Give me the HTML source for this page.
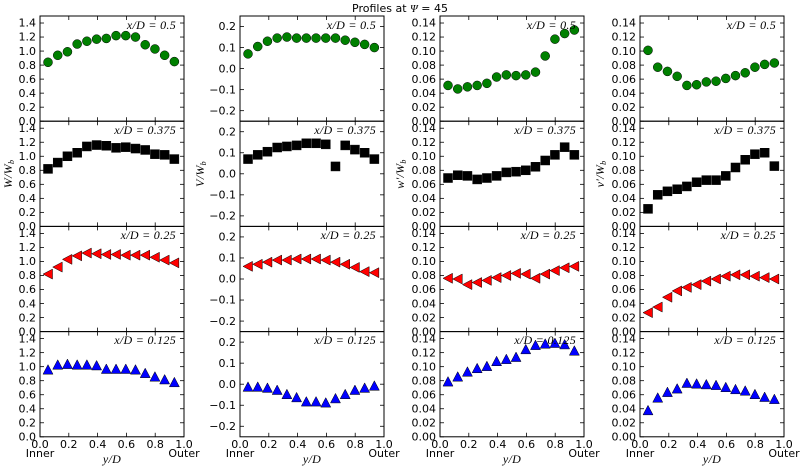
<!DOCTYPE html>
<html><head><meta charset="utf-8"><style>
body{margin:0;background:#fff}
svg{display:block}
.t{font-family:"DejaVu Sans","Liberation Sans",sans-serif;font-size:11px;fill:#000}
.a{font-family:"Liberation Serif",serif;font-style:italic;font-size:12px;fill:#000;letter-spacing:0.3px}
</style></head><body>
<svg id="s" width="800" height="466" viewBox="0 0 800 466" xmlns="http://www.w3.org/2000/svg">
<rect width="800" height="466" fill="#fff"/>
<text class="t" x="400" y="12" text-anchor="middle" font-size="12.5">Profiles at <tspan font-style="italic" font-family="Liberation Serif">Ψ</tspan> =  45</text>
<g id="plots"></g>
<g id="labels">
<g class="t" text-anchor="end">
<g transform="translate(36,16)"><text y="108.9">0.0</text><text y="94.9">0.2</text><text y="80.9">0.4</text><text y="66.8">0.6</text><text y="52.8">0.8</text><text y="38.8">1.0</text><text y="24.7">1.2</text><text y="10.7">1.4</text></g>
<g transform="translate(36,121.2)"><text y="108.9">0.0</text><text y="94.9">0.2</text><text y="80.9">0.4</text><text y="66.8">0.6</text><text y="52.8">0.8</text><text y="38.8">1.0</text><text y="24.7">1.2</text><text y="10.7">1.4</text></g>
<g transform="translate(36,226.4)"><text y="108.9">0.0</text><text y="94.9">0.2</text><text y="80.9">0.4</text><text y="66.8">0.6</text><text y="52.8">0.8</text><text y="38.8">1.0</text><text y="24.7">1.2</text><text y="10.7">1.4</text></g>
<g transform="translate(36,331.6)"><text y="108.9">0.0</text><text y="94.9">0.2</text><text y="80.9">0.4</text><text y="66.8">0.6</text><text y="52.8">0.8</text><text y="38.8">1.0</text><text y="24.7">1.2</text><text y="10.7">1.4</text></g>
<g transform="translate(236,16)"><text y="98.4">−0.2</text><text y="77.3">−0.1</text><text y="56.3">0.0</text><text y="35.3">0.1</text><text y="14.2">0.2</text></g>
<g transform="translate(236,121.2)"><text y="98.4">−0.2</text><text y="77.3">−0.1</text><text y="56.3">0.0</text><text y="35.3">0.1</text><text y="14.2">0.2</text></g>
<g transform="translate(236,226.4)"><text y="98.4">−0.2</text><text y="77.3">−0.1</text><text y="56.3">0.0</text><text y="35.3">0.1</text><text y="14.2">0.2</text></g>
<g transform="translate(236,331.6)"><text y="98.4">−0.2</text><text y="77.3">−0.1</text><text y="56.3">0.0</text><text y="35.3">0.1</text><text y="14.2">0.2</text></g>
<g transform="translate(436,16)"><text y="108.9">0.00</text><text y="94.9">0.02</text><text y="80.9">0.04</text><text y="66.8">0.06</text><text y="52.8">0.08</text><text y="38.8">0.10</text><text y="24.7">0.12</text><text y="10.7">0.14</text></g>
<g transform="translate(436,121.2)"><text y="108.9">0.00</text><text y="94.9">0.02</text><text y="80.9">0.04</text><text y="66.8">0.06</text><text y="52.8">0.08</text><text y="38.8">0.10</text><text y="24.7">0.12</text><text y="10.7">0.14</text></g>
<g transform="translate(436,226.4)"><text y="108.9">0.00</text><text y="94.9">0.02</text><text y="80.9">0.04</text><text y="66.8">0.06</text><text y="52.8">0.08</text><text y="38.8">0.10</text><text y="24.7">0.12</text><text y="10.7">0.14</text></g>
<g transform="translate(436,331.6)"><text y="108.9">0.00</text><text y="94.9">0.02</text><text y="80.9">0.04</text><text y="66.8">0.06</text><text y="52.8">0.08</text><text y="38.8">0.10</text><text y="24.7">0.12</text><text y="10.7">0.14</text></g>
<g transform="translate(636,16)"><text y="108.9">0.00</text><text y="94.9">0.02</text><text y="80.9">0.04</text><text y="66.8">0.06</text><text y="52.8">0.08</text><text y="38.8">0.10</text><text y="24.7">0.12</text><text y="10.7">0.14</text></g>
<g transform="translate(636,121.2)"><text y="108.9">0.00</text><text y="94.9">0.02</text><text y="80.9">0.04</text><text y="66.8">0.06</text><text y="52.8">0.08</text><text y="38.8">0.10</text><text y="24.7">0.12</text><text y="10.7">0.14</text></g>
<g transform="translate(636,226.4)"><text y="108.9">0.00</text><text y="94.9">0.02</text><text y="80.9">0.04</text><text y="66.8">0.06</text><text y="52.8">0.08</text><text y="38.8">0.10</text><text y="24.7">0.12</text><text y="10.7">0.14</text></g>
<g transform="translate(636,331.6)"><text y="108.9">0.00</text><text y="94.9">0.02</text><text y="80.9">0.04</text><text y="66.8">0.06</text><text y="52.8">0.08</text><text y="38.8">0.10</text><text y="24.7">0.12</text><text y="10.7">0.14</text></g>
</g>
<g class="a" text-anchor="end">
<text x="176" y="29">x/D = 0.5</text><text x="376" y="29">x/D = 0.5</text><text x="576" y="29">x/D = 0.5</text><text x="776" y="29">x/D = 0.5</text>
<text x="176" y="134">x/D = 0.375</text><text x="376" y="134">x/D = 0.375</text><text x="576" y="134">x/D = 0.375</text><text x="776" y="134">x/D = 0.375</text>
<text x="176" y="239">x/D = 0.25</text><text x="376" y="239">x/D = 0.25</text><text x="576" y="239">x/D = 0.25</text><text x="776" y="239">x/D = 0.25</text>
<text x="176" y="344">x/D = 0.125</text><text x="376" y="344">x/D = 0.125</text><text x="576" y="344">x/D = 0.125</text><text x="776" y="344">x/D = 0.125</text>
</g>
<g class="a">
<text transform="translate(12,174) rotate(-90)" text-anchor="middle">W/W<tspan font-size="8" dy="2">b</tspan></text>
<text transform="translate(204,174) rotate(-90)" text-anchor="middle">V/W<tspan font-size="8" dy="2">b</tspan></text>
<text transform="translate(404,174) rotate(-90)" text-anchor="middle">w′/W<tspan font-size="8" dy="2">b</tspan></text>
<text transform="translate(604,174) rotate(-90)" text-anchor="middle">v′/W<tspan font-size="8" dy="2">b</tspan></text>
</g>
<g class="t" text-anchor="middle">
<g transform="translate(40,448)"><text x="0">0.0</text><text x="28.8">0.2</text><text x="57.6">0.4</text><text x="86.4">0.6</text><text x="115.2">0.8</text><text x="144">1.0</text><text x="0" y="9">Inner</text><text x="144" y="9">Outer</text></g>
<g transform="translate(240,448)"><text x="0">0.0</text><text x="28.8">0.2</text><text x="57.6">0.4</text><text x="86.4">0.6</text><text x="115.2">0.8</text><text x="144">1.0</text><text x="0" y="9">Inner</text><text x="144" y="9">Outer</text></g>
<g transform="translate(440,448)"><text x="0">0.0</text><text x="28.8">0.2</text><text x="57.6">0.4</text><text x="86.4">0.6</text><text x="115.2">0.8</text><text x="144">1.0</text><text x="0" y="9">Inner</text><text x="144" y="9">Outer</text></g>
<g transform="translate(640,448)"><text x="0">0.0</text><text x="28.8">0.2</text><text x="57.6">0.4</text><text x="86.4">0.6</text><text x="115.2">0.8</text><text x="144">1.0</text><text x="0" y="9">Inner</text><text x="144" y="9">Outer</text></g>
</g>
<g class="a" text-anchor="middle">
<text x="112" y="463">y/D</text><text x="312" y="463">y/D</text><text x="512" y="463">y/D</text><text x="712" y="463">y/D</text>
</g>
</g>
</svg>
<script>
(function(){
var NS="http://www.w3.org/2000/svg",g=document.getElementById("plots");
function el(n,a){var e=document.createElementNS(NS,n);for(var k in a)e.setAttribute(k,a[k]);g.appendChild(e);return e;}
var W=144,H=105.2,cols=[40,240,440,640],rows=[16,121.2,226.4,331.6];
var ranges=[[0,1.5],[-0.25,0.25],[0,0.15],[0,0.15]];
var yt=[[0,.2,.4,.6,.8,1,1.2,1.4],[-.2,-.1,0,.1,.2],[0,.02,.04,.06,.08,.1,.12,.14],[0,.02,.04,.06,.08,.1,.12,.14]];
var D=[
[[0.84,0.94,0.99,1.10,1.14,1.17,1.18,1.22,1.22,1.20,1.09,1.03,0.94,0.85],
 [0.07,0.105,0.13,0.145,0.15,0.145,0.145,0.145,0.145,0.145,0.135,0.125,0.115,0.10],
 [.051,.046,.049,.051,.054,.063,.066,.065,.066,.070,.093,.117,.125,.130],
 [.101,.077,.071,.064,.051,.052,.056,.057,.061,.065,.069,.077,.081,.083]],
[[0.82,0.91,1.00,1.05,1.14,1.16,1.15,1.12,1.13,1.11,1.09,1.03,1.02,0.96],
 [0.07,0.09,0.105,0.125,0.13,0.135,0.145,0.145,0.14,0.035,0.135,0.115,0.10,0.07],
 [.069,.073,.072,.067,.069,.072,.077,.078,.080,.085,.094,.102,.113,.102],
 [.025,.045,.050,.053,.057,.063,.066,.066,.072,.084,.095,.103,.105,.086]],
[[0.82,0.92,1.03,1.08,1.12,1.11,1.10,1.10,1.09,1.09,1.09,1.06,1.02,0.98],
 [0.06,0.07,0.08,0.09,0.09,0.095,0.095,0.095,0.09,0.08,0.07,0.055,0.035,0.03],
 [.076,.075,.067,.070,.073,.077,.080,.083,.082,.076,.082,.087,.091,.093],
 [.027,.035,.049,.058,.063,.067,.072,.075,.079,.081,.081,.079,.077,.075]],
[[0.95,1.02,1.03,1.02,1.02,1.01,0.96,0.96,0.96,0.95,0.90,0.85,0.81,0.77],
 [-0.015,-0.015,-0.02,-0.03,-0.05,-0.065,-0.085,-0.085,-0.09,-0.07,-0.05,-0.03,-0.02,-0.01],
 [.078,.085,.092,.097,.100,.107,.110,.113,.124,.130,.132,.133,.131,.122],
 [.037,.055,.063,.068,.076,.075,.074,.073,.070,.067,.065,.060,.056,.053]]];
var fills=["#008000","#000000","#ff0000","#0000ff"];
for(var r=0;r<4;r++)for(var c=0;c<4;c++){
 var x0=cols[c],y0=rows[r],lo=ranges[c][0],hi=ranges[c][1];
 function Y(v){return y0+H*(hi-v)/(hi-lo);}
 for(var i=1;i<5;i++){var x=x0+i*W/5;el("line",{x1:x,x2:x,y1:y0,y2:y0+4,stroke:"#000","stroke-width":0.8});el("line",{x1:x,x2:x,y1:y0+H,y2:y0+H-4,stroke:"#000","stroke-width":0.8});}
 yt[c].forEach(function(v){var y=Y(v);el("line",{x1:x0,x2:x0+4,y1:y,y2:y,stroke:"#000","stroke-width":0.8});el("line",{x1:x0+W,x2:x0+W-4,y1:y,y2:y,stroke:"#000","stroke-width":0.8});});
 D[r][c].forEach(function(v,i){
  var x=x0+W*(0.0556+i*0.0675),y=Y(v),f=fills[r],a={fill:f,stroke:"#000","stroke-width":0.5};
  if(r==0){a.cx=x;a.cy=y;a.r=4.5;el("circle",a);}
  else if(r==1){a.x=x-4.5;a.y=y-4.5;a.width=9;a.height=9;el("rect",a);}
  else if(r==2){a.points=(x-5)+","+y+" "+(x+4.5)+","+(y-5)+" "+(x+4.5)+","+(y+5);el("polygon",a);}
  else {a.points=x+","+(y-5.5)+" "+(x-5)+","+(y+4)+" "+(x+5)+","+(y+4);el("polygon",a);}
 });
 el("rect",{x:x0,y:y0,width:W,height:H,fill:"none",stroke:"#000","stroke-width":1});
}
})();
</script>
</body></html>
